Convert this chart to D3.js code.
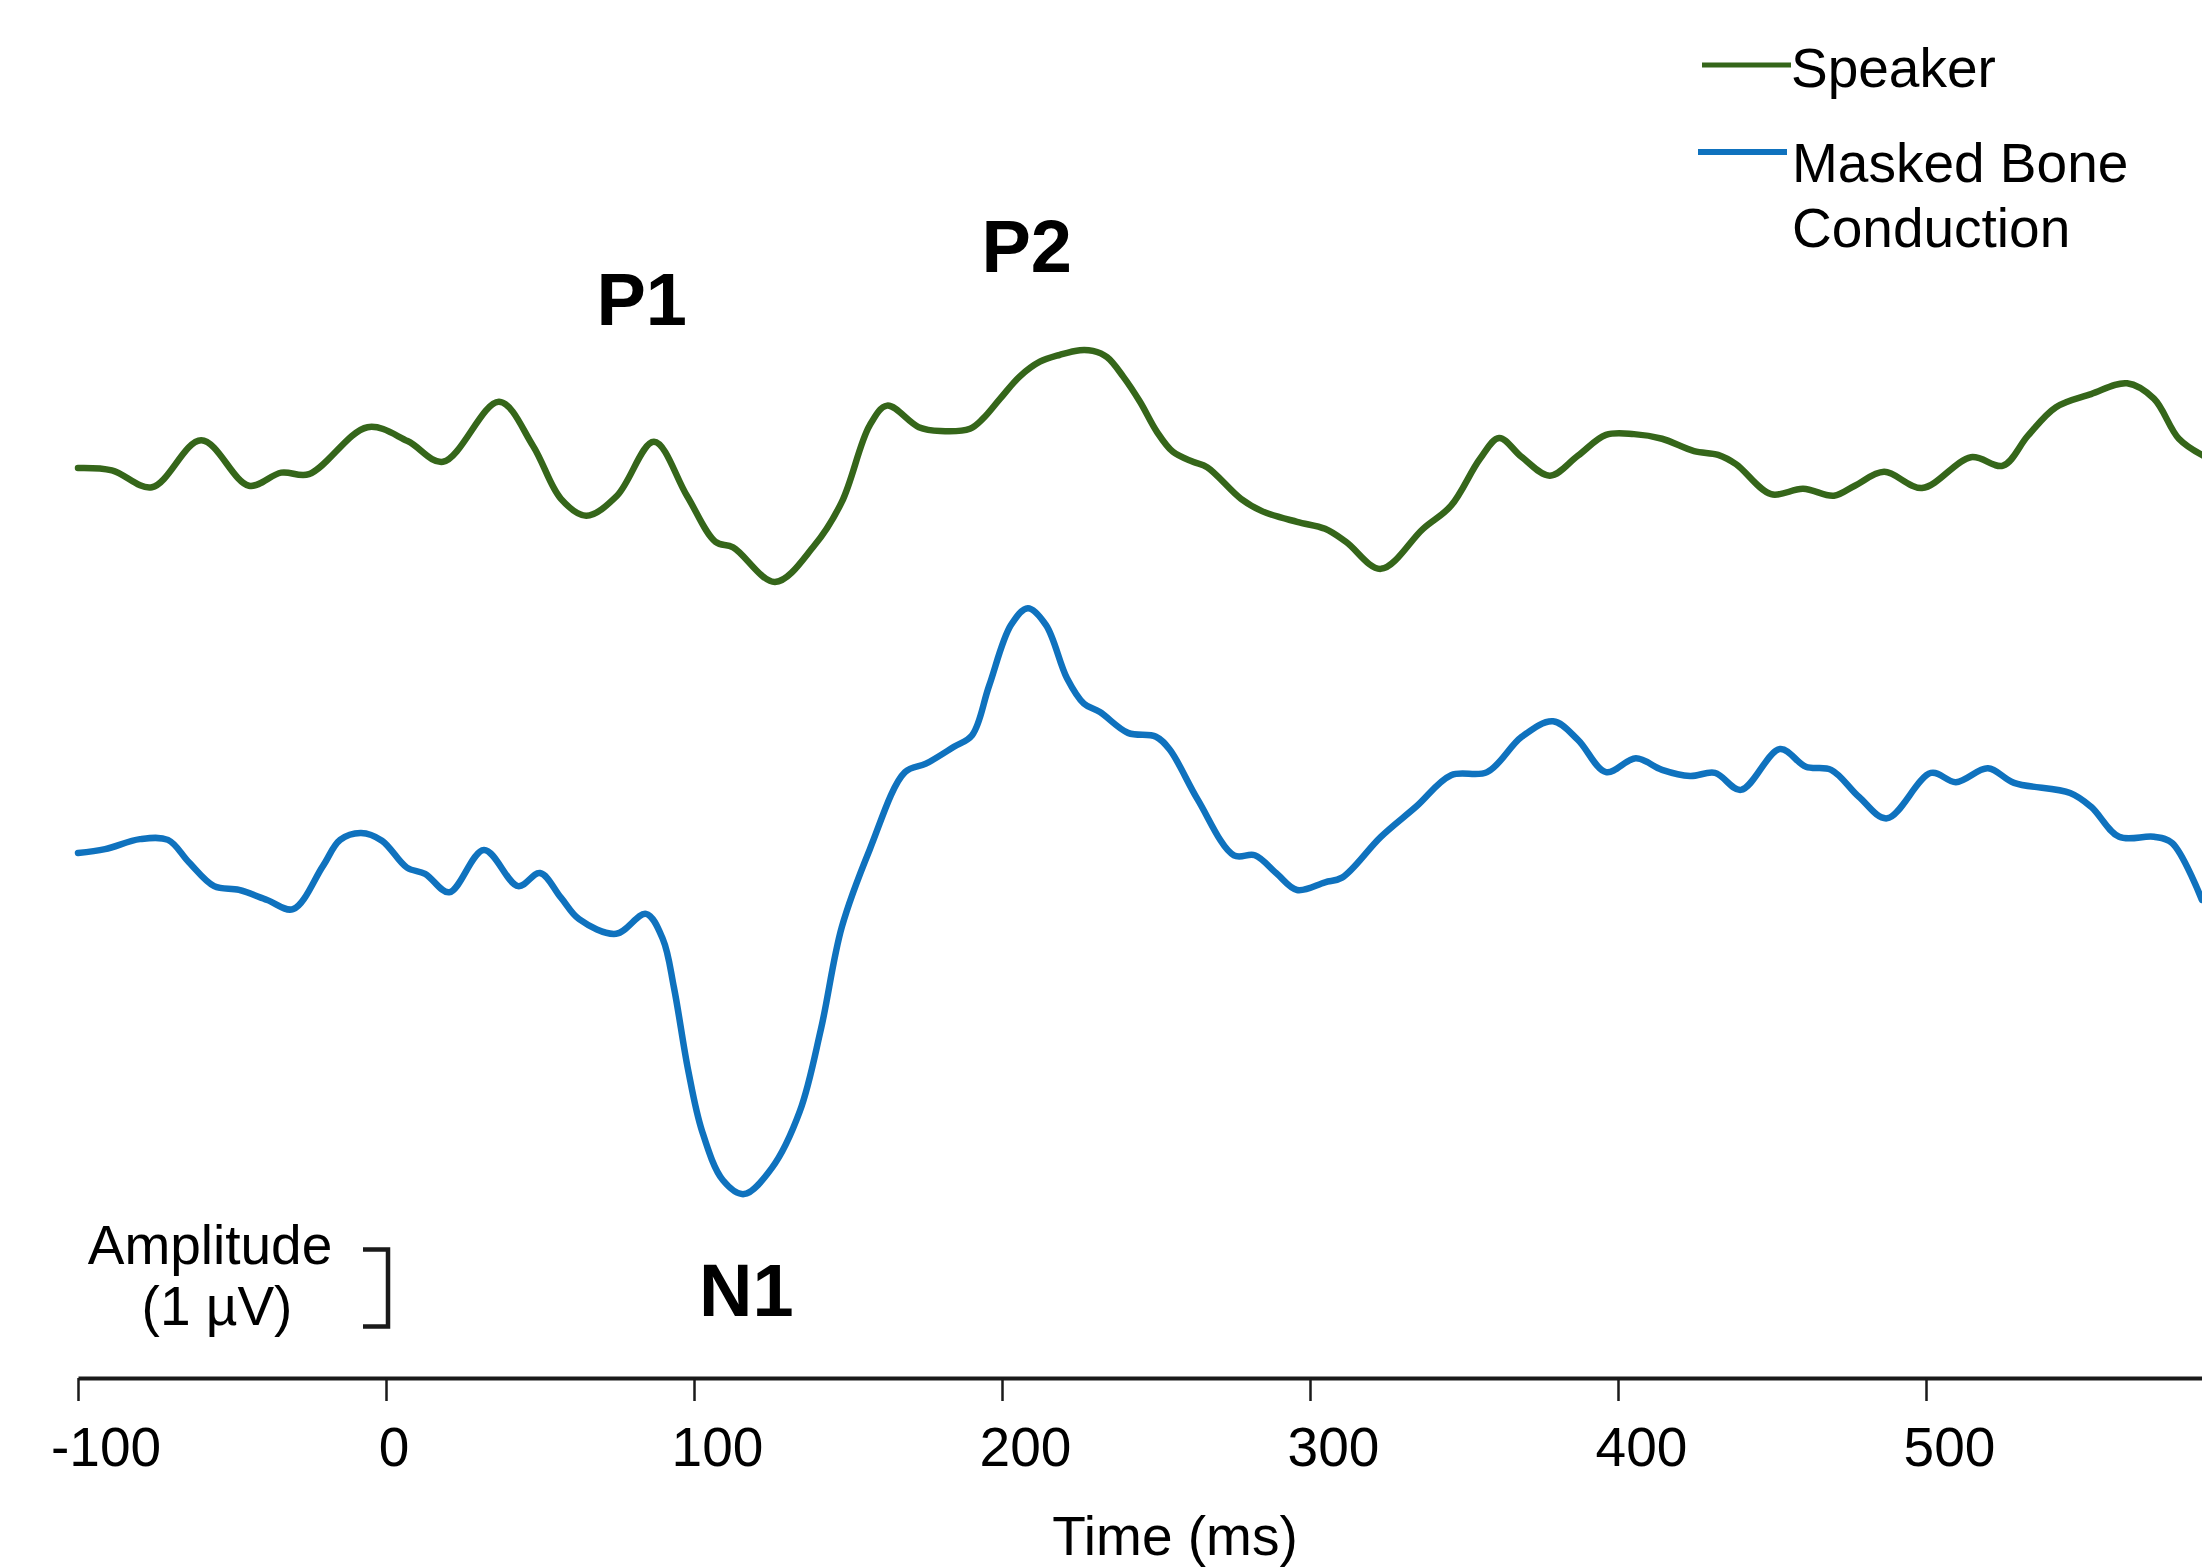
<!DOCTYPE html>
<html>
<head>
<meta charset="utf-8">
<script src="https://cdn.jsdelivr.net/npm/d3@7"></script>
<style>
  body { margin: 0; background: #fff; }
  svg { display: block; }
  text { font-family: "Liberation Sans", Arial, sans-serif; fill: #000; }
</style>
</head>
<body>
<svg id="chart" width="2202" height="1568"></svg>
<script>
// [time (ms), amplitude (µV)]
const speakerTrace = [
  [-100, 0], [-89, -0.03], [-76, -0.25], [-60, 0.36], [-44.5, -0.23], [-34, -0.06], [-25, -0.08],
  [-6, 0.53], [7, 0.35], [18.5, 0.08], [36.7, 0.86], [47.7, 0.29], [56.8, -0.40], [65, -0.62],
  [75, -0.36], [87, 0.34], [97.7, -0.36], [107, -0.96], [112.7, -1.03], [126.3, -1.48], [139, -1.01],
  [148, -0.44], [157, 0.55], [162.7, 0.81], [173, 0.53], [180, 0.48], [189.6, 0.51], [193.8, 0.64],
  [199.4, 0.90], [205.8, 1.19], [212.3, 1.38], [218.8, 1.47], [225.3, 1.53], [229.5, 1.52],
  [234.1, 1.44], [239.3, 1.19], [244.8, 0.86], [250.3, 0.47], [255.5, 0.21], [262, 0.08],
  [266.6, 0.01], [277.6, -0.40], [284.4, -0.56], [295.8, -0.70], [304.9, -0.79], [311.7, -0.96],
  [323, -1.31], [336.7, -0.79], [345.8, -0.49], [355.2, 0.12], [361.4, 0.39], [368.8, 0.14],
  [377.9, -0.10], [387, 0.16], [396.1, 0.43], [405.2, 0.44], [414.3, 0.38], [424.7, 0.22],
  [432.5, 0.17], [438.3, 0.05], [449.7, -0.34], [460.1, -0.27], [470.1, -0.36], [476.9, -0.23],
  [486.4, -0.05], [498.7, -0.26], [514.6, 0.14], [525, 0.03], [533.1, 0.42], [542.2, 0.79],
  [553.6, 0.96], [565.3, 1.10], [574, 0.90], [582.1, 0.38], [590, 0.16]
];

const boneTrace = [
  [-100, 0], [-91.2, 0.05], [-79.9, 0.18], [-70.8, 0.17], [-64, -0.12], [-55.8, -0.43], [-47.7, -0.48],
  [-38.6, -0.61], [-30.2, -0.73], [-20.5, -0.17], [-14.9, 0.17], [-8.1, 0.26], [-1.3, 0.16],
  [6.8, -0.19], [12.7, -0.27], [20.5, -0.51], [31.8, 0.04], [42.9, -0.43], [50, -0.26], [56.8, -0.58],
  [62.7, -0.86], [74.7, -1.05], [84.4, -0.79], [89.9, -1.12], [93.5, -1.75], [98.1, -2.82],
  [102.6, -3.61], [109.4, -4.25], [116.2, -4.43], [125.3, -4.09], [134.4, -3.35], [141.2, -2.29],
  [148, -0.96], [157.1, 0.05], [168.5, 1.05], [175.3, 1.16], [184.4, 1.38], [190.3, 1.53],
  [195.8, 2.17], [202.9, 2.96], [208.4, 3.18], [214.3, 2.96], [221.1, 2.27], [226.6, 1.94],
  [231.8, 1.83], [240.9, 1.56], [250, 1.51], [254.5, 1.34], [263.6, 0.69], [275.3, -0.03],
  [282.1, -0.03], [289, -0.26], [295.8, -0.48], [304.9, -0.38], [310.4, -0.32], [323, 0.21],
  [334.4, 0.60], [345.8, 1.01], [357.5, 1.05], [368.8, 1.51], [378.9, 1.71], [387, 1.47],
  [396.1, 1.05], [405.8, 1.23], [414.3, 1.08], [423.4, 1.00], [431.5, 1.04], [439.9, 0.82],
  [452.6, 1.35], [461, 1.12], [469.2, 1.08], [478.2, 0.73], [487.3, 0.45], [501.6, 1.04],
  [509.7, 0.92], [520.1, 1.10], [528.6, 0.91], [546.8, 0.78], [553.6, 0.60], [562.7, 0.21],
  [574, 0.21], [579.9, 0.13], [589.6, -0.61]
];

const seriesNames = ["Speaker", "Masked Bone Conduction"];
const seriesOffsets = [5, 0];           // µV, traces are stacked
const seriesColors = ["#35661a", "#0f72be"];
const tickValues = [-100, 0, 100, 200, 300, 400, 500];

// component labels: [text, time, µV on the stacked scale]
const peakLabels = [["P1", 83, 6.86], ["P2", 208, 7.55], ["N1", 117, -6.01]];

const svg = d3.select("#chart");

const x = d3.scaleLinear().domain([-100, 600]).range([78, 78 + 700 * 3.08]);
const y = d3.scaleLinear().domain([0, 1]).range([853, 776]);   // 77 px per µV

// traces
const line = d3.line()
  .x(d => x(d[0]))
  .y(d => y(d[1]))
  .curve(d3.curveCatmullRom.alpha(0.5));

[speakerTrace, boneTrace].forEach((trace, i) => {
  svg.append("path")
    .datum(trace.map(d => [d[0], d[1] + seriesOffsets[i]]))
    .attr("fill", "none")
    .attr("stroke", seriesColors[i])
    .attr("stroke-width", 6.5)
    .attr("stroke-linejoin", "round")
    .attr("stroke-linecap", "round")
    .attr("d", line);
});

// time axis
const axis = svg.append("g")
  .attr("transform", "translate(0,1378)")
  .call(d3.axisBottom(x).tickValues(tickValues).tickSize(23).tickSizeOuter(0).tickFormat(d => String(d)));

axis.select(".domain").attr("stroke", "#1a1a1a").attr("stroke-width", 4);
axis.selectAll(".tick line").attr("stroke", "#1a1a1a").attr("stroke-width", 2.5);
axis.selectAll(".tick text")
  .attr("font-size", 55)
  .attr("fill", "#000")
  .attr("y", 88)
  .attr("dy", 0)
  .attr("font-family", "Liberation Sans, Arial, sans-serif")
  .each(function () {
    const w = this.getComputedTextLength();
    d3.select(this).attr("x", w * 0.25);
  });

svg.append("text")
  .attr("x", 1175).attr("y", 1555)
  .attr("text-anchor", "middle")
  .attr("font-size", 55)
  .text("Time (ms)");

// amplitude scale bar (1 µV)
const barTop = y(-5.15), barBot = y(-6.15);
svg.append("path")
  .attr("d", `M363,${barTop}H388V${barBot}H363`)
  .attr("fill", "none")
  .attr("stroke", "#1a1a1a")
  .attr("stroke-width", 4.5);

svg.append("text")
  .attr("x", 210).attr("y", 1264)
  .attr("text-anchor", "middle")
  .attr("font-size", 55)
  .text("Amplitude");
svg.append("text")
  .attr("x", 217).attr("y", 1325)
  .attr("text-anchor", "middle")
  .attr("font-size", 55)
  .text("(1 µV)");

// peak labels
svg.selectAll(".peak")
  .data(peakLabels)
  .join("text")
  .attr("class", "peak")
  .attr("x", d => x(d[1]))
  .attr("y", d => y(d[2]))
  .attr("text-anchor", "middle")
  .attr("font-size", 74)
  .attr("font-weight", "bold")
  .text(d => d[0]);

// legend
const legend = svg.append("g");
legend.append("line")
  .attr("x1", 1702).attr("x2", 1791).attr("y1", 65).attr("y2", 65)
  .attr("stroke", seriesColors[0]).attr("stroke-width", 5);
legend.append("text")
  .attr("x", 1791).attr("y", 87)
  .attr("font-size", 55)
  .text(seriesNames[0]);

legend.append("line")
  .attr("x1", 1698).attr("x2", 1787).attr("y1", 152).attr("y2", 152)
  .attr("stroke", seriesColors[1]).attr("stroke-width", 6);
const boneLabel = legend.append("text")
  .attr("x", 1792).attr("y", 182)
  .attr("font-size", 55);
boneLabel.append("tspan").attr("x", 1792).text("Masked Bone");
boneLabel.append("tspan").attr("x", 1792).attr("dy", 65).text("Conduction");
</script>
</body>
</html>
